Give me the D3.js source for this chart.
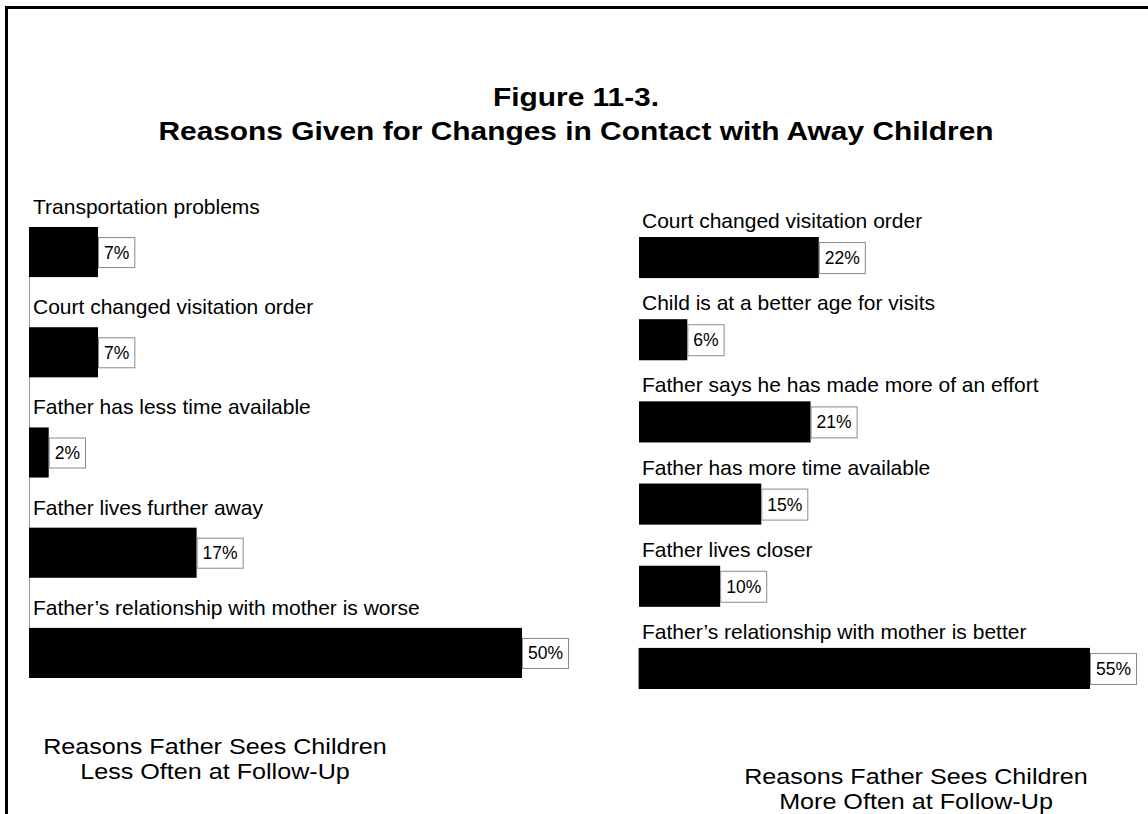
<!DOCTYPE html>
<html>
<head>
<meta charset="utf-8">
<script src="https://cdn.jsdelivr.net/npm/d3@7"></script>
<style>
  html, body { margin: 0; padding: 0; background: #fff; }
  svg { display: block; font-family: Arial, "Liberation Sans", Helvetica, sans-serif; }
</style>
</head>
<body>
<svg id="chart" width="1148" height="814"></svg>
<script>
// ---- Data ----
const titleLines = ["Figure 11-3.", "Reasons Given for Changes in Contact with Away Children"];

const lessCategories = [
  "Transportation problems",
  "Court changed visitation order",
  "Father has less time available",
  "Father lives further away",
  "Father\u2019s relationship with mother is worse"
];
const lessValues = [7, 7, 2, 17, 50];
const lessCaption = ["Reasons Father Sees Children", "Less Often at Follow-Up"];

const moreCategories = [
  "Court changed visitation order",
  "Child is at a better age for visits",
  "Father says he has made more of an effort",
  "Father has more time available",
  "Father lives closer",
  "Father\u2019s relationship with mother is better"
];
const moreValues = [22, 6, 21, 15, 10, 55];
const moreCaption = ["Reasons Father Sees Children", "More Often at Follow-Up"];

// ---- Drawing ----
const svg = d3.select("#chart");

// frame (top and left rules)
svg.append("line").attr("x1", 5).attr("x2", 1148).attr("y1", 7.5).attr("y2", 7.5)
  .attr("stroke", "#000").attr("stroke-width", 3);
svg.append("line").attr("x1", 6.5).attr("x2", 6.5).attr("y1", 6).attr("y2", 814)
  .attr("stroke", "#000").attr("stroke-width", 3);

// title
svg.append("g").selectAll("text").data(titleLines).join("text")
  .attr("transform", (d, i) => `translate(576,${106 + i * 34}) scale(1.15,1)`)
  .attr("text-anchor", "middle")
  .attr("font-weight", "bold")
  .attr("font-size", 26)
  .text(d => d);

function panel(cfg) {
  const g = svg.append("g");
  const x = d3.scaleLinear().domain([0, cfg.maxVal]).range([cfg.x0, cfg.x1]);
  const y = d3.scaleBand().domain(cfg.categories).range([cfg.y0, cfg.y1]).paddingInner(cfg.pad).paddingOuter(0);
  const rows = cfg.categories.map((c, i) => ({ cat: c, val: cfg.values[i] }));

  // baseline axis line
  const axisTop = cfg.axisFull ? y(cfg.categories[0]) : y(cfg.categories[cfg.categories.length - 1]);
  g.append("line")
    .attr("x1", x(0) + 0.5).attr("x2", x(0) + 0.5)
    .attr("y1", axisTop).attr("y2", y(cfg.categories[cfg.categories.length - 1]) + y.bandwidth())
    .attr("stroke", "#9a9a9a").attr("stroke-width", 1);

  const row = g.selectAll("g.row").data(rows).join("g").attr("class", "row");

  row.append("text")
    .attr("x", x(0) + 4)
    .attr("y", d => y(d.cat) - cfg.labelGap)
    .attr("font-size", 21)
    .attr("fill", "#000")
    .text(d => d.cat);

  row.append("rect")
    .attr("x", d => x(0) + (cfg.axisFull ? 0 : 1))
    .attr("y", d => y(d.cat))
    .attr("width", d => x(d.val) - x(0) - (cfg.axisFull ? 0 : 1))
    .attr("height", y.bandwidth())
    .attr("fill", "#000");

  const boxH = cfg.boxH;
  const valText = row.append("text")
    .attr("x", d => x(d.val) + 6)
    .attr("y", d => y(d.cat) + y.bandwidth() / 2 + 6.5)
    .attr("font-size", 17.5)
    .attr("fill", "#000")
    .text(d => d.val + "%");

  valText.each(function (d) {
    const w = this.getComputedTextLength();
    d3.select(this.parentNode).insert("rect", "text:last-child")
      .attr("x", x(d.val) + 0.5)
      .attr("y", y(d.cat) + (y.bandwidth() - boxH) / 2 + 0.5)
      .attr("width", w + 11)
      .attr("height", boxH)
      .attr("fill", "#fff")
      .attr("stroke", "#8a8a8a")
      .attr("stroke-width", 1);
  });

  g.selectAll("text.cap").data(cfg.caption).join("text")
    .attr("class", "cap")
    .attr("transform", (d, i) => `translate(${cfg.capX},${cfg.capY + i * 25}) scale(1.17,1)`)
    .attr("text-anchor", "middle")
    .attr("font-size", 21.5)
    .text(d => d);
}

panel({
  categories: lessCategories, values: lessValues, caption: lessCaption,
  maxVal: 50, x0: 29, x1: 522, y0: 227, y1: 678, pad: 0.5,
  labelGap: 13, boxH: 30, axisFull: true, capX: 215, capY: 754
});

panel({
  categories: moreCategories, values: moreValues, caption: moreCaption,
  maxVal: 55, x0: 638, x1: 1090, y0: 237, y1: 689, pad: 0.5,
  labelGap: 9, boxH: 31, axisFull: false, capX: 916, capY: 784
});
</script>
</body>
</html>
